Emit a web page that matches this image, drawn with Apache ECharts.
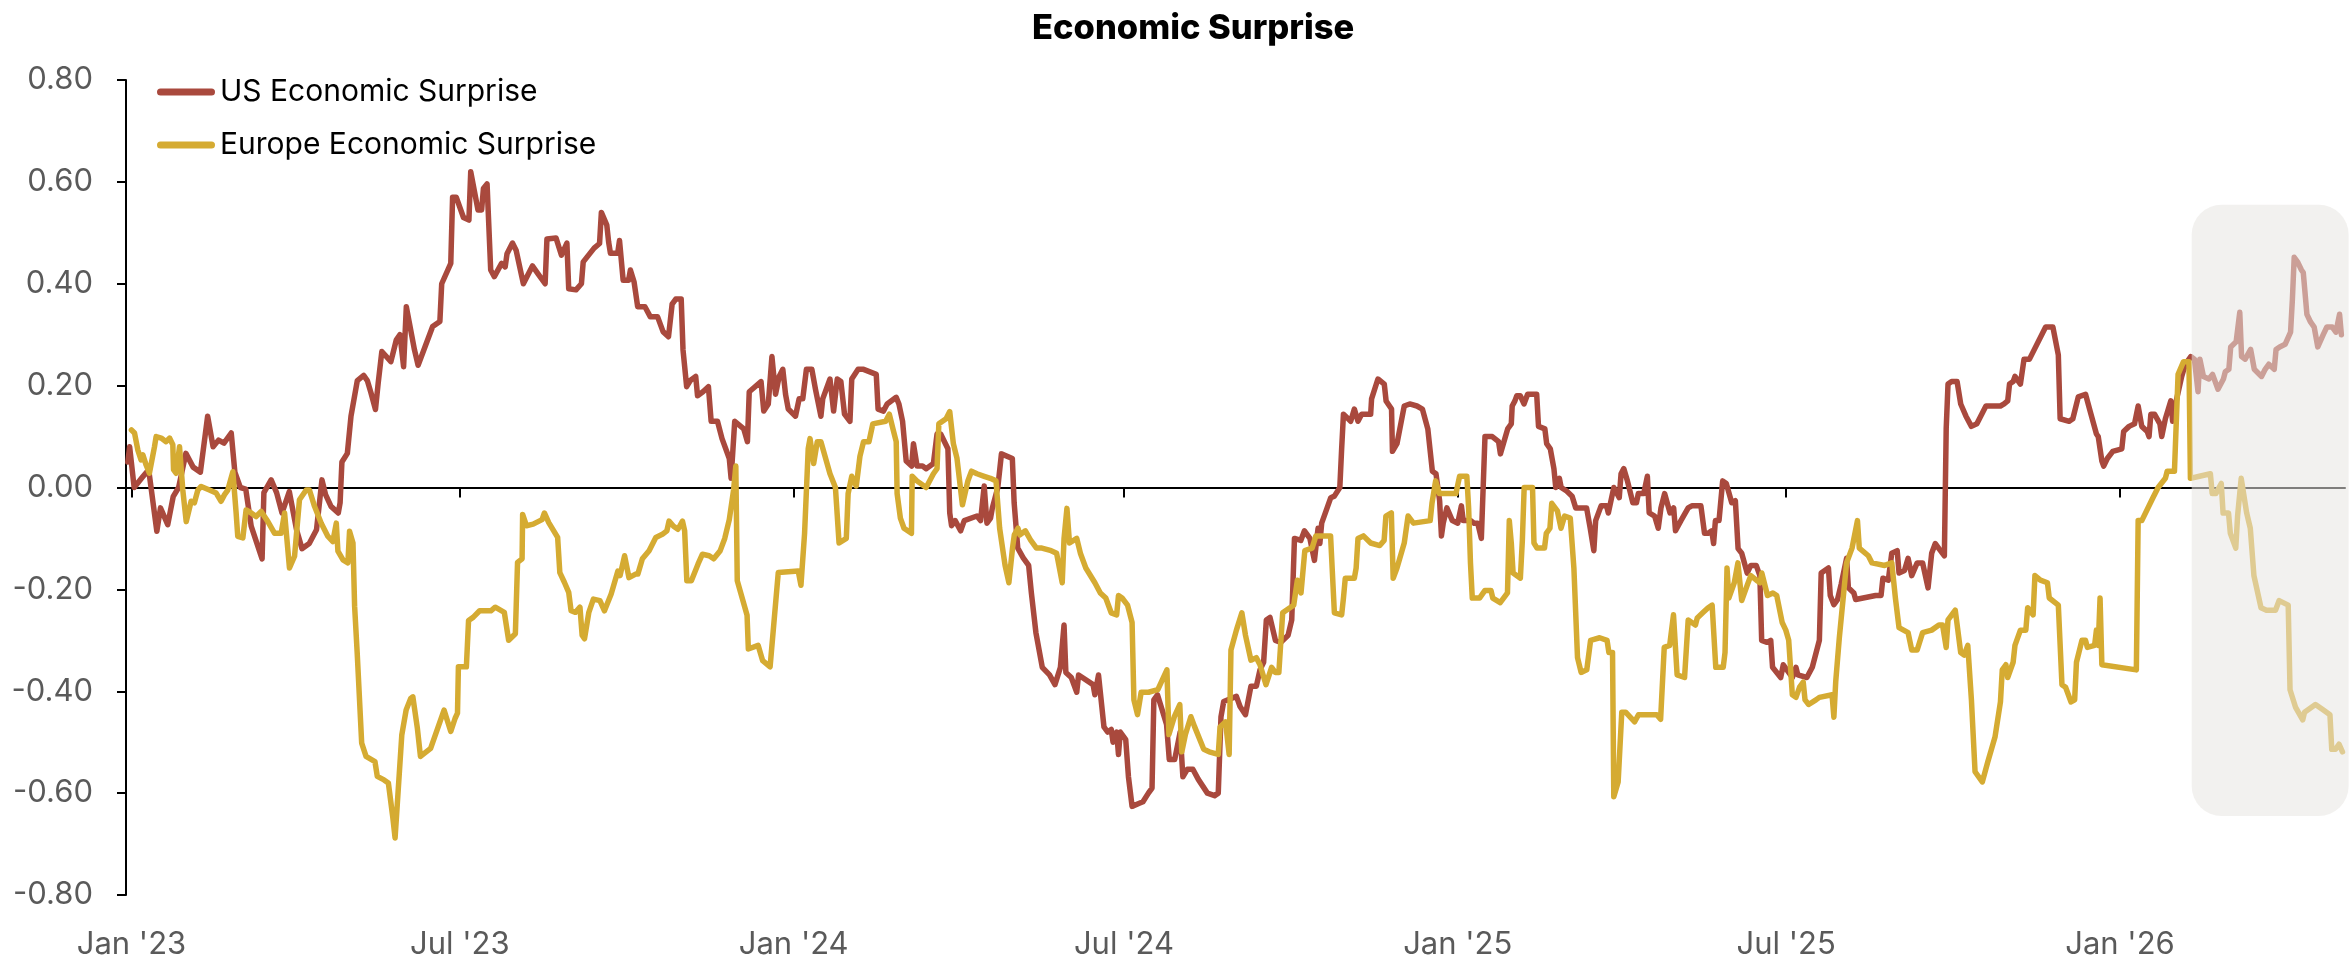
<!DOCTYPE html>
<html>
<head>
<meta charset="utf-8">
<script src="https://cdn.jsdelivr.net/npm/echarts@6/dist/echarts.min.js"></script>
<style>
html,body{margin:0;padding:0;background:#fff;}
#chart{width:2351px;height:960px;}
</style>
</head>
<body>
<div id="chart"></div>
<script>
// ---- DATA (day offsets from 2023-01-01, value) ----
const baseDate = '2023-01-01';
const titleText = 'Economic Surprise';
const seriesNames = ['US Economic Surprise', 'Europe Economic Surprise'];
const tickDates = ['2023-01-01','2023-07-01','2024-01-01','2024-07-01','2025-01-01','2025-07-01','2026-01-01'];
const tickLabels = ["Jan '23","Jul '23","Jan '24","Jul '24","Jan '25","Jul '25","Jan '26"];
const xRangeDays = [-3, 1220];
const shadeDays = [1135.5, 1222];
const shadeValues = [0.555, -0.645];

const usSeries = [
[-2,0.05],[-1,0.08],[1.5,0.0],[6,0.02],[9.5,0.035],[14,-0.086],[16,-0.04],[20,-0.073],[23,-0.018],[26,0.0],[30,0.067],[34,0.04],[38,0.03],[42,0.14],[45,0.08],[48,0.093],[51,0.087],[55,0.107],[57,0.03],[60,0.0],[63,-0.003],[66,-0.076],[72,-0.14],[73,-0.01],[77,0.015],[80,-0.01],[83,-0.05],[87,-0.008],[91,-0.083],[94,-0.12],[98,-0.11],[102,-0.083],[105,0.015],[107,-0.014],[110,-0.037],[114,-0.05],[115,-0.03],[116,0.05],[119,0.067],[121,0.14],[124.5,0.21],[128,0.22],[130,0.21],[132,0.186],[134.5,0.153],[136,0.205],[138,0.267],[143,0.247],[146,0.29],[148,0.3],[150,0.237],[151.5,0.355],[156,0.27],[158,0.24],[166,0.316],[170,0.326],[171,0.4],[176,0.44],[177,0.57],[179,0.57],[183,0.53],[186,0.525],[187,0.62],[191,0.545],[193,0.545],[194,0.587],[196,0.596],[198,0.427],[200,0.414],[204,0.44],[206,0.433],[207,0.459],[210,0.48],[212,0.466],[216,0.4],[221,0.435],[224,0.42],[228,0.4],[229,0.488],[234,0.49],[237,0.456],[240,0.48],[241,0.39],[245,0.388],[248,0.4],[249,0.443],[255,0.47],[258,0.479],[259,0.54],[262,0.515],[263,0.482],[264,0.46],[268,0.46],[269,0.485],[271,0.407],[274,0.407],[275,0.427],[277,0.404],[279,0.355],[283,0.355],[286,0.335],[290,0.335],[293,0.306],[296,0.296],[298,0.36],[300,0.37],[303,0.37],[304,0.27],[306,0.198],[308,0.21],[311,0.218],[312,0.18],[315,0.188],[318,0.198],[319.5,0.13],[323,0.13],[325.5,0.096],[329.5,0.057],[330.5,0.018],[332.5,0.13],[337.5,0.115],[339.5,0.09],[340.5,0.188],[347,0.208],[348.5,0.15],[351,0.164],[353,0.257],[355,0.183],[357,0.218],[359,0.232],[360.5,0.183],[362,0.154],[366,0.14],[368,0.174],[370,0.174],[372,0.232],[375,0.232],[377,0.193],[380,0.14],[381,0.174],[385,0.213],[387,0.15],[389,0.213],[391,0.208],[393,0.144],[396,0.13],[397,0.213],[400.5,0.232],[403.5,0.232],[410.5,0.222],[411.5,0.154],[414.5,0.15],[416.5,0.164],[421.5,0.177],[423,0.164],[425,0.13],[427,0.052],[430,0.042],[431,0.086],[433,0.042],[436,0.042],[438,0.037],[442,0.047],[444,0.105],[446,0.105],[450,0.076],[451,-0.05],[452,-0.075],[454,-0.065],[457,-0.085],[459,-0.065],[466,-0.056],[468,-0.065],[470,0.003],[471.5,-0.07],[473.5,-0.06],[474.5,-0.04],[477.5,0.0],[479.5,0.066],[485.5,0.057],[486.5,-0.03],[488.5,-0.119],[491.5,-0.138],[494.5,-0.153],[496,-0.207],[498.5,-0.285],[502,-0.353],[506,-0.368],[509,-0.387],[512,-0.353],[514,-0.27],[515,-0.363],[518,-0.373],[521,-0.402],[522,-0.368],[530,-0.387],[531,-0.407],[533,-0.368],[536,-0.47],[538,-0.48],[540,-0.475],[541,-0.5],[543,-0.48],[544,-0.524],[545,-0.48],[548,-0.495],[549.5,-0.568],[551.5,-0.626],[555.5,-0.62],[557.5,-0.617],[560.5,-0.6],[562.5,-0.59],[563.5,-0.417],[565.5,-0.407],[567.5,-0.43],[570.5,-0.465],[572,-0.534],[575,-0.534],[578,-0.48],[579.5,-0.568],[582,-0.553],[585,-0.553],[588,-0.573],[593,-0.6],[597,-0.605],[599,-0.6],[600.5,-0.45],[602,-0.42],[609,-0.41],[611,-0.43],[614,-0.446],[617,-0.39],[620,-0.39],[622,-0.358],[624,-0.343],[625.5,-0.26],[627.5,-0.255],[630.5,-0.3],[633.5,-0.304],[637.5,-0.29],[639.5,-0.26],[641,-0.1],[644.5,-0.104],[646.5,-0.085],[649.5,-0.1],[652,-0.143],[654,-0.08],[655,-0.11],[656,-0.07],[659,-0.04],[661,-0.02],[663,-0.017],[666,0.0],[667,0.076],[668,0.144],[672,0.13],[674,0.154],[676,0.13],[678,0.144],[683,0.144],[683.5,0.174],[687,0.213],[690.5,0.203],[691.5,0.17],[694.5,0.154],[695,0.071],[697.5,0.086],[701.5,0.16],[704.5,0.164],[708.5,0.16],[711.5,0.154],[714.5,0.115],[717,0.032],[719,0.027],[721,-0.026],[722,-0.095],[723,-0.07],[725,-0.04],[728,-0.065],[731,-0.07],[733,-0.036],[734,-0.065],[738,-0.065],[740,-0.07],[742,-0.07],[744,-0.1],[746,0.1],[750,0.1],[753.5,0.09],[754.5,0.066],[758.5,0.115],[760.5,0.125],[761,0.16],[762.5,0.17],[763.5,0.18],[765.5,0.18],[767.5,0.164],[769.5,0.183],[774.5,0.183],[775.5,0.12],[779,0.115],[780,0.086],[782,0.076],[784,0.037],[785,0.0],[787,0.018],[788,0.0],[791,-0.007],[794,-0.017],[796,-0.04],[802,-0.04],[804,-0.08],[806,-0.124],[807,-0.065],[810,-0.036],[813,-0.036],[814,-0.05],[817,0.0],[820,-0.02],[821,0.027],[822.5,0.037],[824.5,0.013],[827.5,-0.03],[829.5,-0.03],[830.5,-0.012],[833.5,-0.012],[835.5,0.022],[836.5,-0.05],[839.5,-0.056],[841.5,-0.08],[843,-0.04],[845,-0.012],[848,-0.05],[850,-0.04],[851,-0.085],[854,-0.065],[858,-0.04],[860,-0.036],[865,-0.036],[867,-0.09],[869,-0.09],[871,-0.085],[872,-0.11],[873,-0.065],[875,-0.065],[877,0.013],[879,0.008],[882,-0.03],[884,-0.026],[885.5,-0.12],[887.5,-0.129],[890.5,-0.168],[892.5,-0.153],[895.5,-0.153],[897.5,-0.173],[898.5,-0.3],[901.5,-0.304],[903.5,-0.3],[904.5,-0.353],[909,-0.373],[910.4,-0.348],[912.4,-0.358],[915.4,-0.373],[917.4,-0.353],[918.4,-0.368],[923.4,-0.373],[926.4,-0.353],[930.3,-0.3],[931.3,-0.168],[935.3,-0.158],[936.3,-0.212],[938.3,-0.23],[940.3,-0.22],[942.3,-0.19],[945.3,-0.139],[946.3,-0.197],[949.3,-0.207],[950.3,-0.22],[961.3,-0.212],[964.3,-0.212],[965.3,-0.178],[968.3,-0.182],[970.2,-0.129],[973.2,-0.124],[974.2,-0.168],[977.2,-0.163],[979.2,-0.139],[981.2,-0.173],[984.2,-0.148],[987.2,-0.148],[990.2,-0.197],[991.2,-0.2],[992.2,-0.129],[994.2,-0.11],[996.2,-0.12],[999.2,-0.134],[1000.2,0.115],[1001.2,0.203],[1003.2,0.208],[1006.2,0.208],[1008.2,0.164],[1011.1,0.14],[1014.1,0.12],[1017.1,0.125],[1022.1,0.16],[1030.1,0.16],[1032.1,0.164],[1034.1,0.17],[1035.1,0.203],[1037.1,0.208],[1038.1,0.218],[1041.1,0.203],[1043.1,0.252],[1046.1,0.252],[1055,0.315],[1059,0.315],[1062,0.26],[1063,0.135],[1068,0.13],[1070,0.135],[1073,0.178],[1077,0.183],[1080,0.144],[1083,0.105],[1084,0.1],[1086,0.052],[1087,0.042],[1089,0.057],[1092,0.071],[1097,0.076],[1098,0.11],[1101,0.12],[1104,0.125],[1106,0.16],[1108,0.12],[1111,0.11],[1112,0.1],[1113,0.144],[1115,0.144],[1118,0.125],[1119,0.1],[1121,0.135],[1124,0.17],[1125,0.13],[1127,0.17],[1130,0.218],[1132,0.242],[1135,0.257],[1137,0.252],[1139,0.188],[1140,0.252],[1142,0.218],[1145,0.213],[1147,0.222],[1150,0.193],[1153,0.213],[1154,0.227],[1156,0.232],[1157,0.276],[1160,0.286],[1162,0.344],[1163,0.257],[1165,0.252],[1168,0.271],[1170,0.232],[1174,0.218],[1176,0.232],[1178,0.242],[1181,0.232],[1182,0.271],[1184,0.276],[1187,0.281],[1190,0.305],[1191,0.369],[1192,0.452],[1194,0.442],[1196,0.427],[1197,0.422],[1199,0.34],[1201,0.325],[1203,0.315],[1205,0.276],[1208,0.3],[1210,0.315],[1213,0.315],[1215,0.305],[1217,0.34],[1218,0.3]
];

const euSeries = [
[0,0.113],[1.7,0.107],[3.5,0.074],[5.3,0.054],[6.3,0.064],[8.1,0.044],[9.9,0.028],[12.7,0.08],[13.6,0.1],[16.4,0.097],[19.1,0.09],[21,0.097],[22.8,0.084],[23.2,0.035],[24.6,0.028],[26.5,0.08],[28.3,-0.005],[30.2,-0.067],[32.9,-0.027],[34.7,-0.03],[36.6,-0.005],[38.4,0.002],[43,-0.005],[46.7,-0.011],[49.4,-0.027],[51.3,-0.014],[53.1,-0.005],[55.9,0.031],[57.7,-0.05],[58.6,-0.096],[61.4,-0.099],[63.2,-0.044],[66,-0.05],[68.7,-0.057],[71.5,-0.047],[75.2,-0.067],[78.9,-0.09],[82.5,-0.09],[84.4,-0.05],[87.1,-0.158],[89.9,-0.135],[92.6,-0.024],[96.3,-0.005],[98.1,-0.005],[100.9,-0.037],[104.6,-0.07],[108.3,-0.096],[111,-0.106],[112.9,-0.07],[113.8,-0.125],[116.6,-0.142],[119.3,-0.148],[120.2,-0.086],[122.1,-0.109],[123,-0.233],[124.4,-0.323],[126.9,-0.502],[129.3,-0.528],[134.2,-0.538],[135.5,-0.567],[139.2,-0.574],[141.6,-0.58],[144.1,-0.649],[145.3,-0.688],[146.5,-0.623],[149,-0.486],[151.4,-0.437],[153.9,-0.414],[155.1,-0.411],[157.6,-0.473],[159.3,-0.528],[164.9,-0.512],[172.3,-0.437],[176,-0.479],[178.4,-0.453],[179.7,-0.443],[180.2,-0.352],[184.6,-0.352],[185.8,-0.261],[188.3,-0.255],[191.9,-0.242],[198.1,-0.242],[200.5,-0.235],[205.5,-0.245],[207.9,-0.3],[211.6,-0.287],[212.8,-0.147],[215.3,-0.14],[215.6,-0.053],[217.7,-0.075],[221.4,-0.072],[226.3,-0.063],[227.6,-0.05],[230,-0.069],[234.9,-0.098],[236.1,-0.167],[238.6,-0.186],[241,-0.206],[242.3,-0.242],[244.7,-0.245],[247.2,-0.235],[248.4,-0.29],[249.7,-0.297],[252.1,-0.245],[254.6,-0.219],[258.2,-0.222],[260.7,-0.242],[264.4,-0.209],[268.1,-0.164],[269.3,-0.173],[271.8,-0.134],[274.2,-0.177],[277.9,-0.17],[279.1,-0.17],[281.6,-0.14],[285.3,-0.124],[289,-0.098],[292.6,-0.092],[295.1,-0.085],[296.3,-0.066],[298.8,-0.076],[301.2,-0.082],[303.7,-0.066],[304.9,-0.085],[306.1,-0.183],[308.6,-0.183],[312.3,-0.15],[314.7,-0.131],[318.4,-0.134],[320.9,-0.14],[324.5,-0.124],[327,-0.1],[329.5,-0.063],[331.9,-0.004],[333.1,0.042],[333.9,-0.183],[339.3,-0.251],[340,-0.317],[345.4,-0.31],[347.9,-0.34],[352,-0.352],[356.5,-0.167],[367.5,-0.164],[369,-0.192],[371,-0.09],[373,0.076],[374,0.096],[375,0.096],[376,0.047],[378,0.09],[380,0.09],[385,0.027],[388,0.0],[390,-0.109],[394,-0.1],[395,-0.012],[397,0.022],[399.5,0.003],[401.5,0.061],[403.5,0.09],[406.5,0.09],[408.6,0.125],[415.7,0.13],[417.7,0.144],[419.7,0.115],[421.5,0.09],[422,-0.012],[423.8,-0.06],[425.8,-0.08],[429.9,-0.09],[430.3,0.022],[432.9,0.013],[438,0.0],[442,0.027],[444,0.037],[445,0.125],[449,0.135],[451,0.149],[453,0.086],[455,0.057],[458,-0.034],[461,0.013],[463,0.032],[466,0.027],[470,0.022],[473.4,0.018],[476.5,0.013],[478.5,-0.08],[481.5,-0.153],[483.6,-0.187],[485.6,-0.119],[486.6,-0.093],[488.6,-0.08],[489.7,-0.093],[492.7,-0.085],[495.7,-0.104],[498.8,-0.119],[501.8,-0.119],[506.9,-0.124],[509.9,-0.129],[513,-0.187],[514,-0.1],[515.6,-0.041],[517,-0.109],[521,-0.1],[523,-0.129],[526,-0.158],[531,-0.187],[534,-0.207],[537,-0.217],[540,-0.246],[543,-0.25],[544,-0.212],[546,-0.217],[549,-0.231],[551.5,-0.265],[552.5,-0.417],[554.5,-0.446],[556.5,-0.402],[560.6,-0.402],[565.7,-0.397],[570.7,-0.358],[571.8,-0.485],[574.8,-0.45],[577.8,-0.426],[578.9,-0.519],[580.9,-0.485],[583.9,-0.45],[586,-0.47],[591,-0.514],[594,-0.519],[599,-0.524],[600,-0.47],[603,-0.46],[605,-0.524],[606,-0.319],[609,-0.28],[612,-0.246],[614,-0.29],[617,-0.339],[620,-0.334],[622,-0.348],[625.3,-0.387],[628.4,-0.353],[630.4,-0.363],[632.4,-0.363],[634.5,-0.246],[638.5,-0.236],[640.6,-0.231],[642.6,-0.182],[644.6,-0.207],[646.7,-0.124],[650.7,-0.119],[652.8,-0.095],[660.9,-0.095],[663,-0.246],[667,-0.25],[668,-0.217],[669,-0.178],[674,-0.178],[675,-0.158],[676,-0.1],[679,-0.095],[683,-0.109],[688,-0.114],[690.4,-0.104],[691.4,-0.056],[694.4,-0.05],[695.4,-0.178],[697.5,-0.158],[701.5,-0.109],[703.6,-0.056],[706.6,-0.07],[715.8,-0.065],[716.8,-0.031],[718.8,0.013],[720.8,-0.012],[730,-0.012],[732,0.022],[736,0.022],[737,-0.041],[738,-0.148],[739,-0.217],[743,-0.217],[746,-0.202],[749.3,-0.202],[750.3,-0.217],[754.4,-0.226],[758.4,-0.207],[759.4,-0.065],[760.5,-0.109],[761.5,-0.168],[765.5,-0.178],[766.6,-0.104],[767.6,0.0],[772.2,0.0],[773,-0.109],[774.7,-0.119],[778.8,-0.119],[779.8,-0.09],[781.8,-0.08],[782.8,-0.031],[785.9,-0.046],[787.9,-0.08],[789.9,-0.056],[793,-0.06],[795,-0.158],[797,-0.334],[799,-0.363],[802.1,-0.358],[804.2,-0.3],[809.2,-0.295],[813.3,-0.3],[814.3,-0.324],[816.3,-0.324],[817,-0.607],[819.4,-0.578],[821.4,-0.441],[823.5,-0.441],[828.5,-0.46],[830.6,-0.446],[840.7,-0.446],[842.8,-0.455],[844.8,-0.314],[847.8,-0.31],[849.9,-0.25],[851.9,-0.368],[856,-0.373],[858,-0.26],[862,-0.27],[863,-0.256],[866,-0.246],[869,-0.236],[871.2,-0.231],[873.2,-0.353],[877.3,-0.353],[878.3,-0.324],[879.4,-0.158],[880.4,-0.217],[883.4,-0.187],[885.4,-0.148],[887.5,-0.222],[890.5,-0.192],[892.5,-0.173],[895.6,-0.182],[897.6,-0.187],[898.6,-0.168],[901.7,-0.212],[904.7,-0.207],[906.8,-0.212],[909.8,-0.265],[911.8,-0.28],[913.4,-0.3],[915.4,-0.407],[917.4,-0.412],[919.4,-0.392],[921.4,-0.382],[922.4,-0.417],[924.4,-0.426],[928.4,-0.417],[930.3,-0.412],[937.3,-0.407],[938.3,-0.451],[939.3,-0.382],[941.3,-0.295],[945.3,-0.148],[948.3,-0.119],[951.3,-0.065],[952.3,-0.119],[957.3,-0.134],[959.3,-0.148],[966.3,-0.153],[970.2,-0.148],[972.2,-0.217],[974.2,-0.275],[979.2,-0.285],[981.2,-0.319],[984.2,-0.319],[987.2,-0.285],[992.2,-0.28],[996.2,-0.27],[998.2,-0.27],[1000.2,-0.314],[1001.2,-0.26],[1005.2,-0.241],[1008.2,-0.324],[1010.1,-0.329],[1012.1,-0.31],[1014.1,-0.417],[1016.1,-0.558],[1020.1,-0.578],[1023.1,-0.539],[1027.1,-0.49],[1030.1,-0.421],[1031.1,-0.358],[1033.1,-0.348],[1034.1,-0.373],[1037.1,-0.343],[1038.1,-0.31],[1041.1,-0.28],[1044.1,-0.28],[1045.1,-0.236],[1048.1,-0.25],[1049.1,-0.173],[1052.1,-0.182],[1056,-0.187],[1057,-0.217],[1062,-0.231],[1064,-0.387],[1066,-0.392],[1069,-0.421],[1071,-0.417],[1072,-0.343],[1075,-0.3],[1077,-0.3],[1078,-0.314],[1082,-0.31],[1083,-0.28],[1084,-0.31],[1085,-0.217],[1086,-0.348],[1105,-0.358],[1106,-0.065],[1108,-0.065],[1114,-0.021],[1117,0.0],[1121,0.018],[1122,0.032],[1126,0.032],[1128,0.222],[1131,0.247],[1134,0.247],[1134.8,0.018],[1139.8,0.022],[1145.8,0.027],[1146.8,-0.012],[1148.8,-0.012],[1151.8,0.008],[1152.8,-0.05],[1155.8,-0.05],[1156.8,-0.09],[1159.8,-0.119],[1160.8,-0.056],[1162.8,0.018],[1165.8,-0.05],[1167.8,-0.08],[1169.8,-0.173],[1173.7,-0.236],[1176.7,-0.241],[1181.7,-0.241],[1183.7,-0.222],[1188.7,-0.231],[1189.7,-0.397],[1192.7,-0.431],[1196.7,-0.456],[1197.7,-0.441],[1203.7,-0.426],[1207.7,-0.436],[1211.7,-0.446],[1212.7,-0.514],[1214.7,-0.514],[1216.7,-0.504],[1218.6,-0.519]
];

// ---- helpers ----
const DAY_MS = 86400000;
const BASE_MS = Date.parse(baseDate + 'T00:00:00Z');
const toTime = d => BASE_MS + d * DAY_MS;
const tickTimes = tickDates.map(s => Date.parse(s + 'T00:00:00Z'));
const labelFor = v => {
  for (let i = 0; i < tickTimes.length; i++) {
    if (Math.abs(tickTimes[i] - v) < DAY_MS / 2) return tickLabels[i];
  }
  return '';
};

const FONT = 'Inter';
const RED = '#a9493d';
const GOLD = '#d5ab32';

const chart = echarts.init(document.getElementById('chart'), null, {renderer: 'canvas'});

const option = {
  animation: false,
  backgroundColor: '#ffffff',
  title: {
    text: titleText,
    left: 1027,
    top: 6,
    textStyle: {fontFamily: FONT, fontWeight: 800, fontSize: 34.5, color: '#000'}
  },
  legend: {
    orient: 'vertical',
    left: 152,
    top: 72,
    itemWidth: 58,
    itemHeight: 24,
    itemGap: 23,
    icon: 'path://M3.5,0 L54.5,0 A3.5,3.5 0 0 1 54.5,7 L3.5,7 A3.5,3.5 0 0 1 3.5,0 Z',
    textStyle: {fontFamily: FONT, fontSize: 30, color: '#000'},
    data: seriesNames
  },
  grid: {left: 126, right: 6, top: 80, bottom: 64, containLabel: false},
  xAxis: [
    {
      type: 'value',
      min: toTime(xRangeDays[0]),
      max: toTime(xRangeDays[1]),
      axisLine: {show: true, onZero: true, lineStyle: {color: '#000', width: 2}},
      axisTick: {show: true, customValues: tickTimes, length: 10, lineStyle: {color: '#000', width: 2}},
      axisLabel: {show: false},
      splitLine: {show: false}
    },
    {
      type: 'value',
      position: 'bottom',
      min: toTime(xRangeDays[0]),
      max: toTime(xRangeDays[1]),
      axisLine: {show: false, onZero: false},
      axisTick: {show: false},
      axisLabel: {
        show: true,
        customValues: tickTimes,
        formatter: v => labelFor(v),
        fontFamily: FONT, fontSize: 31, color: '#5a5a5a', margin: 34,
        hideOverlap: false
      },
      splitLine: {show: false}
    }
  ],
  yAxis: {
    type: 'value',
    min: -0.8, max: 0.8, interval: 0.2,
    axisLine: {show: true, lineStyle: {color: '#000', width: 2}},
    axisTick: {show: true, length: 9, lineStyle: {color: '#000', width: 2}},
    axisLabel: {
      formatter: v => (Math.abs(v) < 1e-9 ? 0 : v).toFixed(2),
      fontFamily: FONT, fontSize: 31, color: '#5a5a5a', margin: 33
    },
    splitLine: {show: false}
  },
  series: [
    {
      name: seriesNames[0], type: 'line', xAxisIndex: 0, symbol: 'none',
      data: usSeries.map(p => [toTime(p[0]), p[1]]),
      lineStyle: {color: RED, width: 5.5, join: 'round', cap: 'round'},
      itemStyle: {color: RED}, z: 2
    },
    {
      name: seriesNames[1], type: 'line', xAxisIndex: 0, symbol: 'none',
      data: euSeries.map(p => [toTime(p[0]), p[1]]),
      lineStyle: {color: GOLD, width: 5.5, join: 'round', cap: 'round'},
      itemStyle: {color: GOLD}, z: 3
    }
  ]
};

chart.setOption(option);

// shaded overlay, positioned through the axes
const p1 = chart.convertToPixel({xAxisIndex: 0, yAxisIndex: 0}, [toTime(shadeDays[0]), shadeValues[0]]);
const p2 = chart.convertToPixel({xAxisIndex: 0, yAxisIndex: 0}, [toTime(shadeDays[1]), shadeValues[1]]);
chart.setOption({
  graphic: [{
    type: 'rect', z: 100, silent: true,
    shape: {x: p1[0], y: p1[1], width: p2[0] - p1[0], height: p2[1] - p1[1], r: 30},
    style: {fill: 'rgba(231,230,226,0.55)'}
  }]
});
</script>
</body>
</html>
